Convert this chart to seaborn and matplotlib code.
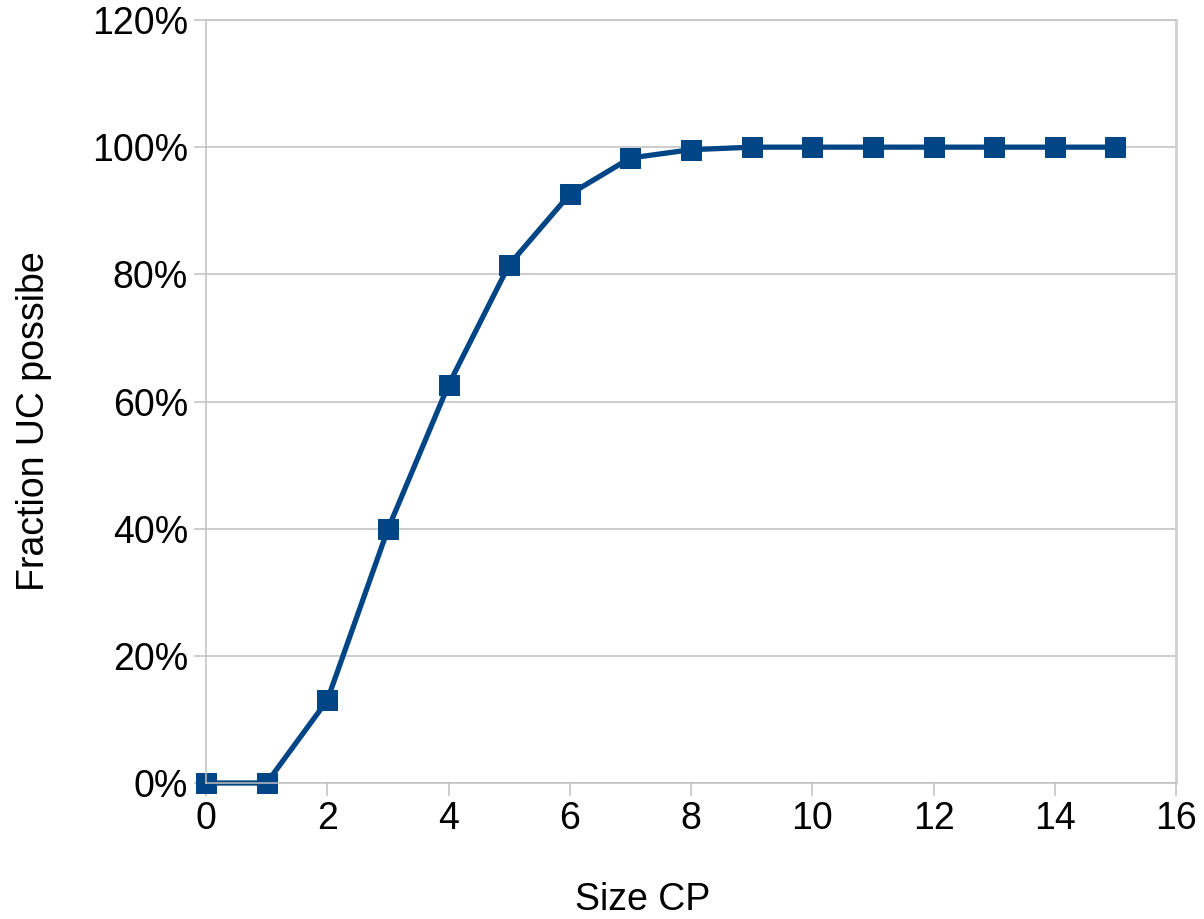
import matplotlib
matplotlib.use("Agg")
import matplotlib.pyplot as plt
import seaborn as sns
import pandas as pd
from matplotlib.ticker import FuncFormatter, MultipleLocator

size_cp = [0, 1, 2, 3, 4, 5, 6, 7, 8, 9, 10, 11, 12, 13, 14, 15]
fraction = [0.0, 0.0, 13.0, 39.9, 62.6, 81.5, 92.6, 98.3, 99.6, 100, 100, 100, 100, 100, 100, 100]

df = pd.DataFrame({"Size CP": size_cp, "Fraction": fraction})

sns.set_theme(style="white")
plt.rcParams['font.family'] = ['Liberation Sans', 'DejaVu Sans']

fig = plt.figure(figsize=(12.04, 9.19), dpi=100)
ax = fig.add_axes([206/1204, 1-783/919, (1176-206)/1204, (783-20)/919])

color = "#004586"
sns.lineplot(data=df, x="Size CP", y="Fraction", ax=ax, color=color, linewidth=3.8,
             marker="s", markersize=14, markeredgecolor=color, markerfacecolor=color)

ax.set_xlim(0, 16)
ax.set_ylim(0, 120)
ax.xaxis.set_major_locator(MultipleLocator(2))
ax.yaxis.set_major_locator(MultipleLocator(20))
ax.yaxis.set_major_formatter(FuncFormatter(lambda v, p: f"{int(round(v))}%"))

grid_c = "#c0c0c0"
ax.grid(axis="y", color=grid_c, linewidth=1.1)
ax.grid(axis="x", visible=False)
ax.set_axisbelow(True)
for s in ["left", "right", "bottom", "top"]:
    ax.spines[s].set_color(grid_c)
    ax.spines[s].set_linewidth(1.1)
ax.spines["right"].set_color("#d0d0d0")
ax.spines["right"].set_linewidth(2)

ax.tick_params(axis="both", which="major", direction="out", length=9, width=1.1,
               color=grid_c, labelsize=27, labelcolor="black", pad=4,
               left=True, bottom=True)

ax.set_xlabel("Size CP", fontsize=27, color="black")
ax.set_ylabel("Fraction UC possibe", fontsize=27, color="black")
ax.xaxis.set_label_coords((643-206)/970, (783-882)/763)
ax.yaxis.set_label_coords((52-206)/970, (783-421)/763)

for lbl in ax.get_xticklabels() + ax.get_yticklabels():
    lbl.set_clip_on(False)
ax.lines[0].set_clip_on(False)

fig.savefig("out.png", dpi=100)
